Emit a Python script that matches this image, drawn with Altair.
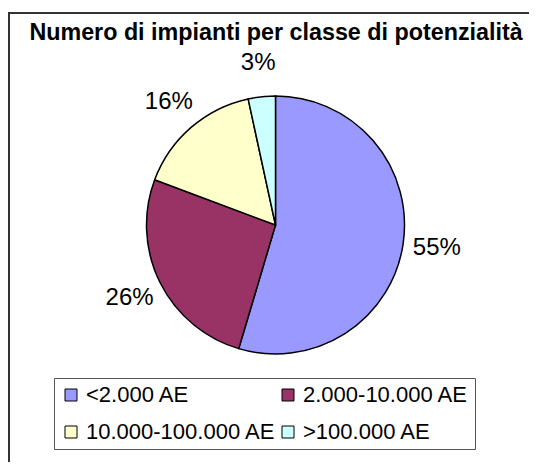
import altair as alt
import pandas as pd

title_text = "Numero di impianti per classe di potenzialità"
categories = ["<2.000 AE", "2.000-10.000 AE", "10.000-100.000 AE", ">100.000 AE"]
shares = [54.6, 26.1, 15.9, 3.4]
colors = ["#9999FF", "#993366", "#FFFFCC", "#CCFFFF"]

df = pd.DataFrame({"classe": categories, "quota": shares, "ordine": list(range(len(categories)))})

FONT = "Liberation Sans"
CX, CY = 267.5, 217

base = alt.Chart(df).transform_calculate(
    frac="datum.quota / 100"
).encode(
    theta=alt.Theta("quota:Q", stack=True),
    order=alt.Order("ordine:Q"),
)

pie = base.mark_arc(
    outerRadius=129, stroke="black", strokeWidth=1.5, x=CX, y=CY
).encode(
    color=alt.Color(
        "classe:N",
        scale=alt.Scale(domain=categories, range=colors),
        sort=categories,
        legend=alt.Legend(
            title=None,
            orient="none",
            legendX=46,
            legendY=370,
            direction="horizontal",
            columns=2,
            gridAlign="all",
            columnPadding=1,
            rowPadding=15,
            padding=6,
            strokeColor="#555555",
            fillColor="white",
            symbolType="square",
            symbolSize=144,
            symbolStrokeColor="black",
            symbolStrokeWidth=1,
            symbolOpacity=1,
            labelFont=FONT,
            labelFontSize=22,
            labelColor="black",
            labelOffset=4,
            labelLimit=400,
        ),
    )
)

labels = base.mark_text(
    radius=163, font=FONT, fontSize=24, color="black", x=CX, y=CY,
    align="center", baseline="middle"
).encode(
    text=alt.Text("frac:Q", format=".0%")
)

one = pd.DataFrame({"t": [title_text]})
title = alt.Chart(one).mark_text(
    font=FONT, fontSize=23.3, fontWeight="bold", color="black",
    align="center", baseline="alphabetic"
).encode(
    text="t:N", x=alt.value(268), y=alt.value(32)
)

frame_left = alt.Chart(one).mark_rule(color="#333333", strokeWidth=2).encode(
    x=alt.value(1), y=alt.value(5), y2=alt.value(470)
)
frame_top = alt.Chart(one).mark_rule(color="#333333", strokeWidth=2).encode(
    x=alt.value(0), x2=alt.value(530), y=alt.value(5)
)

chart = alt.layer(frame_left, frame_top, pie, labels, title).properties(
    width=521,
    height=454,
    padding={"left": 0, "top": 0, "right": 0, "bottom": 0},
    autosize=alt.AutoSizeParams(type="none"),
    background="white",
).configure_view(
    stroke=None
)

chart.save("out.html", embed_options={"renderer": "svg", "actions": False})
